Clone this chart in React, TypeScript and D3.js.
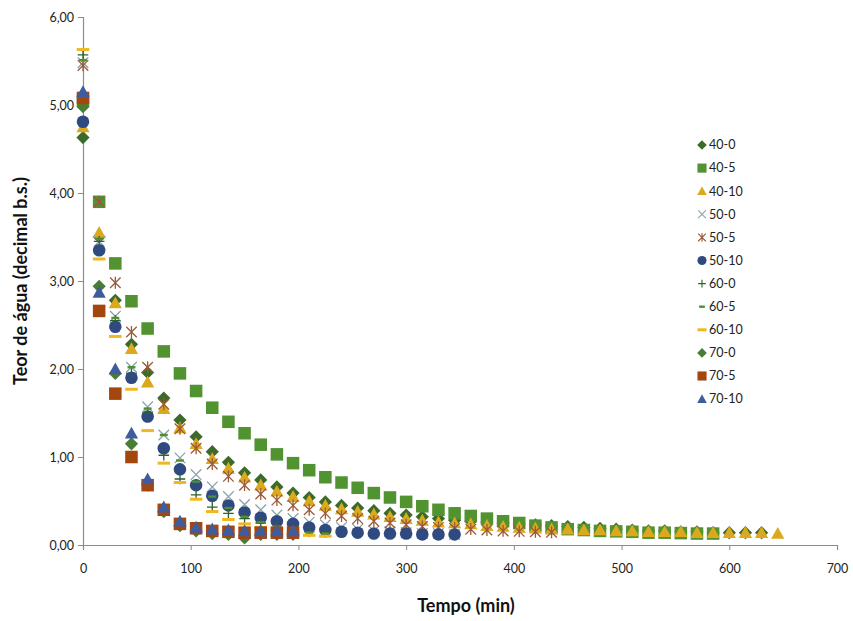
import { useEffect, useRef } from 'react';
import * as d3 from 'd3';

// tempo (min)
const tempo = [0, 15, 30, 45, 60, 75, 90, 105, 120, 135, 150, 165, 180, 195, 210, 225, 240, 255, 270, 285, 300, 315, 330, 345, 360, 375, 390, 405, 420, 435, 450, 465, 480, 495, 510, 525, 540, 555, 570, 585, 600, 615, 630, 645];

// teor de água por ensaio (temperatura-velocidade)
const s40_0 = [4.63, 3.5, 2.78, 2.28, 1.96, 1.67, 1.42, 1.23, 1.06, 0.94, 0.82, 0.74, 0.66, 0.59, 0.54, 0.49, 0.45, 0.42, 0.39, 0.36, 0.34, 0.32, 0.3, 0.28, 0.27, 0.26, 0.25, 0.24, 0.23, 0.22, 0.21, 0.2, 0.19, 0.18, 0.17, 0.16, 0.16, 0.15, 0.15, 0.14, 0.14, 0.14, 0.14];
const s40_5 = [5.05, 3.9, 3.2, 2.77, 2.46, 2.2, 1.95, 1.75, 1.56, 1.4, 1.27, 1.14, 1.03, 0.93, 0.85, 0.77, 0.71, 0.65, 0.59, 0.54, 0.49, 0.44, 0.4, 0.36, 0.33, 0.3, 0.27, 0.25, 0.22, 0.2, 0.18, 0.17, 0.16, 0.155, 0.15, 0.14, 0.14, 0.135, 0.13, 0.13];
const s40_10 = [4.75, 3.55, 2.75, 2.23, 1.85, 1.55, 1.33, 1.15, 0.98, 0.87, 0.77, 0.68, 0.61, 0.55, 0.5, 0.45, 0.41, 0.38, 0.35, 0.32, 0.3, 0.28, 0.26, 0.25, 0.24, 0.22, 0.21, 0.2, 0.19, 0.18, 0.18, 0.17, 0.17, 0.16, 0.16, 0.15, 0.15, 0.15, 0.14, 0.14, 0.14, 0.14, 0.14, 0.13];
const s50_0 = [5.48, 3.45, 2.6, 2.02, 1.57, 1.25, 0.99, 0.8, 0.66, 0.55, 0.46, 0.4, 0.34, 0.3, 0.26, 0.23, 0.2, 0.18, 0.16, 0.15, 0.14, 0.13, 0.13, 0.12];
const s50_5 = [5.45, 3.9, 2.98, 2.42, 2.02, 1.6, 1.32, 1.1, 0.92, 0.78, 0.68, 0.58, 0.51, 0.45, 0.4, 0.36, 0.33, 0.3, 0.27, 0.25, 0.23, 0.21, 0.2, 0.19, 0.18, 0.17, 0.16, 0.155, 0.15, 0.145];
const s50_10 = [4.81, 3.35, 2.48, 1.9, 1.46, 1.1, 0.86, 0.68, 0.56, 0.45, 0.37, 0.31, 0.27, 0.24, 0.2, 0.17, 0.15, 0.14, 0.13, 0.13, 0.13, 0.12, 0.12, 0.12];
const s60_0 = [5.57, 3.45, 2.55, 1.95, 1.5, 1.02, 0.75, 0.57, 0.43, 0.36, 0.3, 0.25, 0.2, 0.17, 0.15, 0.14];
const s60_5 = [5.51, 3.48, 2.58, 2.02, 1.55, 1.25, 0.96, 0.72, 0.55, 0.42, 0.32, 0.26, 0.21, 0.17, 0.14, 0.13];
const s60_10 = [5.63, 3.25, 2.37, 1.77, 1.3, 0.93, 0.71, 0.52, 0.38, 0.29, 0.24, 0.2, 0.17, 0.14, 0.11, 0.1];
const s70_0 = [4.98, 2.94, 1.95, 1.15, 0.68, 0.38, 0.22, 0.16, 0.13, 0.12, 0.08, 0.12, 0.12, 0.12];
const s70_5 = [5.08, 2.66, 1.72, 1.0, 0.68, 0.4, 0.24, 0.19, 0.16, 0.15, 0.14, 0.14, 0.14, 0.14];
const s70_10 = [5.15, 2.87, 2.0, 1.27, 0.75, 0.43, 0.27, 0.2, 0.18, 0.17, 0.16, 0.16, 0.16, 0.16];

const seriesNames = ['40-0', '40-5', '40-10', '50-0', '50-5', '50-10', '60-0', '60-5', '60-10', '70-0', '70-5', '70-10'];
const seriesValues = [s40_0, s40_5, s40_10, s50_0, s50_5, s50_10, s60_0, s60_5, s60_10, s70_0, s70_5, s70_10];
const seriesMarkers = ['diamond', 'square', 'triangle', 'x', 'star', 'circle', 'plus', 'dash', 'longdash', 'diamond', 'square', 'triangle'];
const seriesColors = ['#3b6a2a', '#519330', '#dca81e', '#8aa3ab', '#9a5a3a', '#2f4a80', '#2f5e2f', '#4f8f2f', '#f0b820', '#4a7d34', '#a4470f', '#3f5d9e'];

const yTicks = [0, 1, 2, 3, 4, 5, 6];
const xTicks = [0, 100, 200, 300, 400, 500, 600, 700];

const W = 853;
const H = 621;
const FONT = 'Lato, "Open Sans", sans-serif';

function markerPath(kind: string, s: number): { d: string; fill: boolean } {
  const p = d3.path();
  switch (kind) {
    case 'diamond':
      p.moveTo(0, -s); p.lineTo(s, 0); p.lineTo(0, s); p.lineTo(-s, 0); p.closePath();
      return { d: p.toString(), fill: true };
    case 'square':
      p.rect(-s * 0.95, -s * 0.95, s * 1.9, s * 1.9);
      return { d: p.toString(), fill: true };
    case 'triangle':
      p.moveTo(0, -s); p.lineTo(s, s * 0.8); p.lineTo(-s, s * 0.8); p.closePath();
      return { d: p.toString(), fill: true };
    case 'circle':
      p.arc(0, 0, s * 0.95, 0, 2 * Math.PI);
      return { d: p.toString(), fill: true };
    case 'x':
      p.moveTo(-s * 0.8, -s * 0.8); p.lineTo(s * 0.8, s * 0.8);
      p.moveTo(s * 0.8, -s * 0.8); p.lineTo(-s * 0.8, s * 0.8);
      return { d: p.toString(), fill: false };
    case 'star':
      p.moveTo(-s * 0.8, -s * 0.8); p.lineTo(s * 0.8, s * 0.8);
      p.moveTo(s * 0.8, -s * 0.8); p.lineTo(-s * 0.8, s * 0.8);
      p.moveTo(0, -s * 0.9); p.lineTo(0, s * 0.9);
      return { d: p.toString(), fill: false };
    case 'plus':
      p.moveTo(-s * 0.8, 0); p.lineTo(s * 0.8, 0);
      p.moveTo(0, -s * 0.8); p.lineTo(0, s * 0.8);
      return { d: p.toString(), fill: false };
    case 'dash':
      p.rect(-s * 0.6, -1.2, s * 1.2, 2.4);
      return { d: p.toString(), fill: true };
    default: // longdash
      p.rect(-s * 0.95, -1.5, s * 1.9, 3);
      return { d: p.toString(), fill: true };
  }
}

export default function App() {
  const ref = useRef<SVGSVGElement>(null);

  useEffect(() => {
    if (!ref.current) return;
    const svg = d3.select(ref.current);
    svg.selectAll('*').remove();

    const x = d3.scaleLinear().domain([0, 700]).range([83, 837]);
    const y = d3.scaleLinear().domain([0, 6]).range([545, 17]);

    svg.append('rect').attr('width', W).attr('height', H).attr('fill', '#fff');

    // eixo y
    const gy = svg.append('g').attr('transform', `translate(${x(0)},0)`)
      .call(d3.axisLeft(y).tickValues(yTicks).tickSize(5).tickPadding(4)
        .tickFormat(d => d3.format('.2f')(d as number).replace('.', ',')));
    // eixo x
    const gx = svg.append('g').attr('transform', `translate(0,${y(0)})`)
      .call(d3.axisBottom(x).tickValues(xTicks).tickSize(5).tickPadding(14).tickFormat(d3.format('d')));

    [gx, gy].forEach(g => {
      g.select('.domain').attr('stroke', '#8c8c8c').attr('stroke-width', 1.2);
      g.selectAll('.tick line').attr('stroke', '#8c8c8c');
      g.selectAll('.tick text').attr('fill', '#222').style('font-family', FONT).style('font-size', '12.5px');
    });

    // séries
    seriesValues.forEach((vals, i) => {
      const m = markerPath(seriesMarkers[i], 6.6);
      const g = svg.append('g');
      g.selectAll('path')
        .data(vals)
        .enter().append('path')
        .attr('transform', (v, j) => `translate(${x(tempo[j])},${y(v)})`)
        .attr('d', m.d)
        .attr('fill', m.fill ? seriesColors[i] : 'none')
        .attr('stroke', m.fill ? 'none' : seriesColors[i])
        .attr('stroke-width', 1.3);
    });

    // legenda
    const leg = svg.append('g');
    seriesNames.forEach((name, i) => {
      const ly = 145 + i * 23.1;
      const m = markerPath(seriesMarkers[i], 4.8);
      leg.append('path')
        .attr('transform', `translate(702,${ly})`)
        .attr('d', m.d)
        .attr('fill', m.fill ? seriesColors[i] : 'none')
        .attr('stroke', m.fill ? 'none' : seriesColors[i])
        .attr('stroke-width', 1.1);
      leg.append('text')
        .attr('x', 709)
        .attr('y', ly)
        .attr('dy', '0.35em')
        .style('font-family', FONT)
        .style('font-size', '12.5px')
        .attr('fill', '#222')
        .text(name);
    });

    // títulos dos eixos
    svg.append('text')
      .attr('transform', 'translate(27,281) rotate(-90)')
      .attr('text-anchor', 'middle')
      .style('font-family', FONT)
      .style('font-size', '18px')
      .style('font-weight', '700')
      .attr('fill', '#111')
      .text('Teor de água (decimal b.s.)');
    svg.append('text')
      .attr('x', 466)
      .attr('y', 612)
      .attr('text-anchor', 'middle')
      .style('font-family', FONT)
      .style('font-size', '18px')
      .style('font-weight', '700')
      .attr('fill', '#111')
      .text('Tempo (min)');
  }, []);

  return (
    <svg ref={ref} width={W} height={H} style={{ position: 'absolute', left: 0, top: 0 }} />
  );
}
